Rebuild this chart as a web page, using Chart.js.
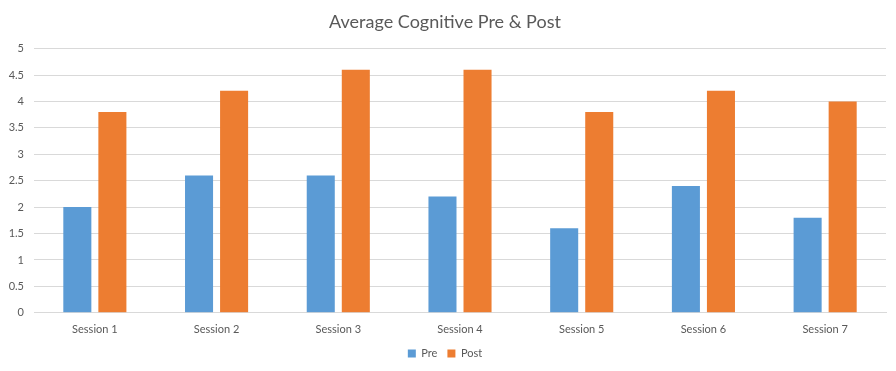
<!DOCTYPE html>
<html>
<head>
<meta charset="utf-8">
<script src="https://cdn.jsdelivr.net/npm/chart.js@4"></script>
<style>
  html, body { margin: 0; padding: 0; background: #fff; }
  #wrap { width: 896px; height: 371px; }
</style>
</head>
<body>
<div id="wrap"><canvas id="cogChart"></canvas></div>
<script>
// Dados
const sessions = ['Session 1', 'Session 2', 'Session 3', 'Session 4', 'Session 5', 'Session 6', 'Session 7']
const preValues = [2, 2.6, 2.6, 2.2, 1.6, 2.4, 1.8]
const postValues = [3.8, 4.2, 4.6, 4.6, 3.8, 4.2, 4.0]

const fontFamily = 'Lato, "Open Sans", sans-serif'
const textColor = '#595959'

const ctx = document.getElementById('cogChart').getContext('2d')

const cogChart = new Chart(ctx, {
  type: 'bar',
  data: {
    labels: sessions,
    datasets: [
      {
        label: 'Pre',
        data: preValues,
        backgroundColor: '#5B9BD5',
        categoryPercentage: 0.576,
        barPercentage: 0.8,
      },
      {
        label: 'Post',
        data: postValues,
        backgroundColor: '#ED7D31',
        categoryPercentage: 0.576,
        barPercentage: 0.8,
      },
    ],
  },
  options: {
    responsive: true,
    maintainAspectRatio: false,
    animation: false,
    layout: { padding: { left: 4, right: 10, top: 8, bottom: 2 } },
    plugins: {
      title: {
        display: true,
        text: 'Average Cognitive Pre & Post',
        color: textColor,
        font: { family: fontFamily, size: 18, weight: 'normal' },
        padding: { top: 3, bottom: 16 },
      },
      legend: {
        position: 'bottom',
        labels: {
          color: textColor,
          font: { family: fontFamily, size: 11 },
          boxWidth: 8,
          boxHeight: 8,
          padding: 10,
        },
      },
      tooltip: { enabled: false },
    },
    scales: {
      x: {
        grid: { display: false, drawTicks: false },
        border: { color: '#d9d9d9' },
        ticks: {
          color: textColor,
          font: { family: fontFamily, size: 11 },
          padding: 10,
        },
        // aproxima a legenda do eixo
        afterFit: function (scale) {
          scale.height = scale.height - 8
        },
      },
      y: {
        min: 0,
        max: 5,
        grid: { color: '#d9d9d9', drawTicks: false },
        border: { display: false },
        ticks: {
          stepSize: 0.5,
          color: textColor,
          font: { family: fontFamily, size: 11 },
          padding: 10,
          callback: (value) => String(value),
        },
        afterFit: function (scale) {
          scale.width = 30
        },
      },
    },
  },
})
</script>
</body>
</html>
